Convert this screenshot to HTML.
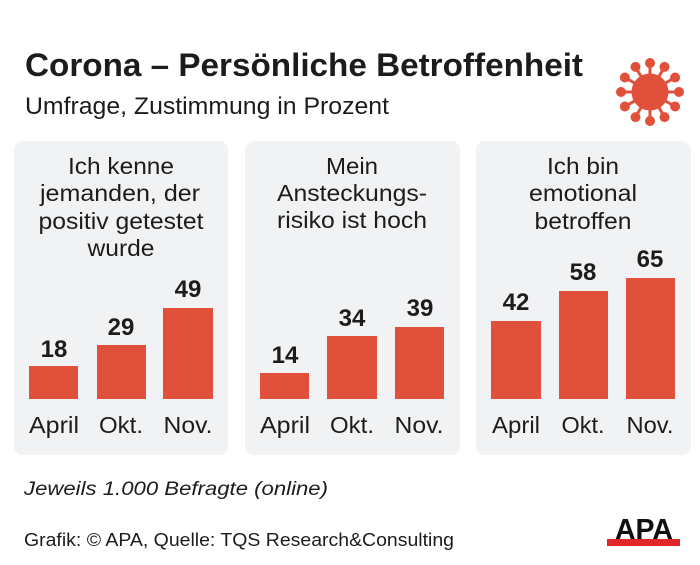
<!DOCTYPE html>
<html><head><meta charset="utf-8"><style>
html,body{margin:0;padding:0;background:#fff;}
svg{display:block;font-family:"Liberation Sans",Arial,Helvetica,sans-serif;}
svg text{font-family:"Liberation Sans",Arial,Helvetica,sans-serif;fill:#1c1c1c;}
.t{font-size:23px;}
.v{font-size:24px;font-weight:bold;}
.c{font-size:23px;}
</style></head><body>
<svg width="700" height="565" viewBox="0 0 700 565" xmlns="http://www.w3.org/2000/svg" font-family="Liberation Sans, Arial, sans-serif">
<rect width="700" height="565" fill="#fff"/>
<text x="25" y="76" font-size="32" font-weight="bold" textLength="558" lengthAdjust="spacingAndGlyphs">Corona – Persönliche Betroffenheit</text>
<text x="25" y="114" font-size="24" textLength="364" lengthAdjust="spacingAndGlyphs">Umfrage, Zustimmung in Prozent</text>
<g fill="#e0503a" stroke="#e0503a">
<circle cx="650" cy="92" r="18.5" stroke="none"/>
<g stroke-width="3">
<line x1="650" y1="92" x2="650" y2="63"/><line x1="650" y1="92" x2="650" y2="121"/>
<line x1="650" y1="92" x2="621" y2="92"/><line x1="650" y1="92" x2="679" y2="92"/>
<line x1="650" y1="92" x2="635.5" y2="66.9"/><line x1="650" y1="92" x2="664.5" y2="66.9"/>
<line x1="650" y1="92" x2="635.5" y2="117.1"/><line x1="650" y1="92" x2="664.5" y2="117.1"/>
<line x1="650" y1="92" x2="624.9" y2="77.5"/><line x1="650" y1="92" x2="675.1" y2="77.5"/>
<line x1="650" y1="92" x2="624.9" y2="106.5"/><line x1="650" y1="92" x2="675.1" y2="106.5"/>
</g>
<g stroke="none">
<circle cx="650" cy="63" r="5"/><circle cx="650" cy="121" r="5"/>
<circle cx="621" cy="92" r="5"/><circle cx="679" cy="92" r="5"/>
<circle cx="635.5" cy="66.9" r="5"/><circle cx="664.5" cy="66.9" r="5"/>
<circle cx="635.5" cy="117.1" r="5"/><circle cx="664.5" cy="117.1" r="5"/>
<circle cx="624.9" cy="77.5" r="5"/><circle cx="675.1" cy="77.5" r="5"/>
<circle cx="624.9" cy="106.5" r="5"/><circle cx="675.1" cy="106.5" r="5"/>
</g>
</g>

<!-- panels -->
<rect x="14" y="141" width="214" height="314" rx="9" fill="#f1f2f4"/>
<rect x="245" y="141" width="215" height="314" rx="9" fill="#f1f2f4"/>
<rect x="476" y="141" width="215" height="314" rx="9" fill="#f1f2f4"/>

<!-- panel 1 -->
<g text-anchor="middle">
<text class="t" x="121" y="174" textLength="106" lengthAdjust="spacingAndGlyphs">Ich kenne</text>
<text class="t" x="120" y="201" textLength="160" lengthAdjust="spacingAndGlyphs">jemanden, der</text>
<text class="t" x="121" y="229" textLength="165" lengthAdjust="spacingAndGlyphs">positiv getestet</text>
<text class="t" x="121" y="256" textLength="67" lengthAdjust="spacingAndGlyphs">wurde</text>
</g>
<g fill="#e0503a">
<rect x="29" y="366" width="49" height="33"/>
<rect x="97" y="345" width="49" height="54"/>
<rect x="163" y="308" width="50" height="91"/>
</g>
<g text-anchor="middle">
<text class="v" x="54" y="357">18</text>
<text class="v" x="121" y="335">29</text>
<text class="v" x="188" y="297">49</text>
<text class="c" x="54" y="433" textLength="50" lengthAdjust="spacingAndGlyphs">April</text>
<text class="c" x="121" y="433" textLength="44" lengthAdjust="spacingAndGlyphs">Okt.</text>
<text class="c" x="188" y="433" textLength="49" lengthAdjust="spacingAndGlyphs">Nov.</text>
</g>

<!-- panel 2 -->
<g text-anchor="middle">
<text class="t" x="352" y="174" textLength="52" lengthAdjust="spacingAndGlyphs">Mein</text>
<text class="t" x="352" y="201" textLength="150" lengthAdjust="spacingAndGlyphs">Ansteckungs-</text>
<text class="t" x="352" y="228" textLength="150" lengthAdjust="spacingAndGlyphs">risiko ist hoch</text>
</g>
<g fill="#e0503a">
<rect x="260" y="373" width="49" height="26"/>
<rect x="327" y="336" width="50" height="63"/>
<rect x="395" y="327" width="49" height="72"/>
</g>
<g text-anchor="middle">
<text class="v" x="285" y="363">14</text>
<text class="v" x="352" y="326">34</text>
<text class="v" x="420" y="316">39</text>
<text class="c" x="285" y="433" textLength="50" lengthAdjust="spacingAndGlyphs">April</text>
<text class="c" x="352" y="433" textLength="44" lengthAdjust="spacingAndGlyphs">Okt.</text>
<text class="c" x="419" y="433" textLength="49" lengthAdjust="spacingAndGlyphs">Nov.</text>
</g>

<!-- panel 3 -->
<g text-anchor="middle">
<text class="t" x="583" y="174" textLength="72" lengthAdjust="spacingAndGlyphs">Ich bin</text>
<text class="t" x="583" y="201" textLength="108" lengthAdjust="spacingAndGlyphs">emotional</text>
<text class="t" x="583" y="229" textLength="97" lengthAdjust="spacingAndGlyphs">betroffen</text>
</g>
<g fill="#e0503a">
<rect x="491" y="321" width="50" height="78"/>
<rect x="559" y="291" width="49" height="108"/>
<rect x="626" y="278" width="49" height="121"/>
</g>
<g text-anchor="middle">
<text class="v" x="516" y="310">42</text>
<text class="v" x="583" y="280">58</text>
<text class="v" x="650" y="267">65</text>
<text class="c" x="516" y="433" textLength="48" lengthAdjust="spacingAndGlyphs">April</text>
<text class="c" x="583" y="433" textLength="43" lengthAdjust="spacingAndGlyphs">Okt.</text>
<text class="c" x="650" y="433" textLength="47" lengthAdjust="spacingAndGlyphs">Nov.</text>
</g>

<!-- footer -->
<text x="24" y="495" font-size="19" font-style="italic" textLength="304" lengthAdjust="spacingAndGlyphs">Jeweils 1.000 Befragte (online)</text>
<text x="24" y="546" font-size="18.5" textLength="430" lengthAdjust="spacingAndGlyphs">Grafik: © APA, Quelle: TQS Research&amp;Consulting</text>
<rect x="607" y="539" width="73" height="7" fill="#e0282a"/>
<text x="644" y="539" text-anchor="middle" font-size="29" font-weight="bold" textLength="58" lengthAdjust="spacingAndGlyphs" style="fill:#111">APA</text>
</svg>
</body></html>
